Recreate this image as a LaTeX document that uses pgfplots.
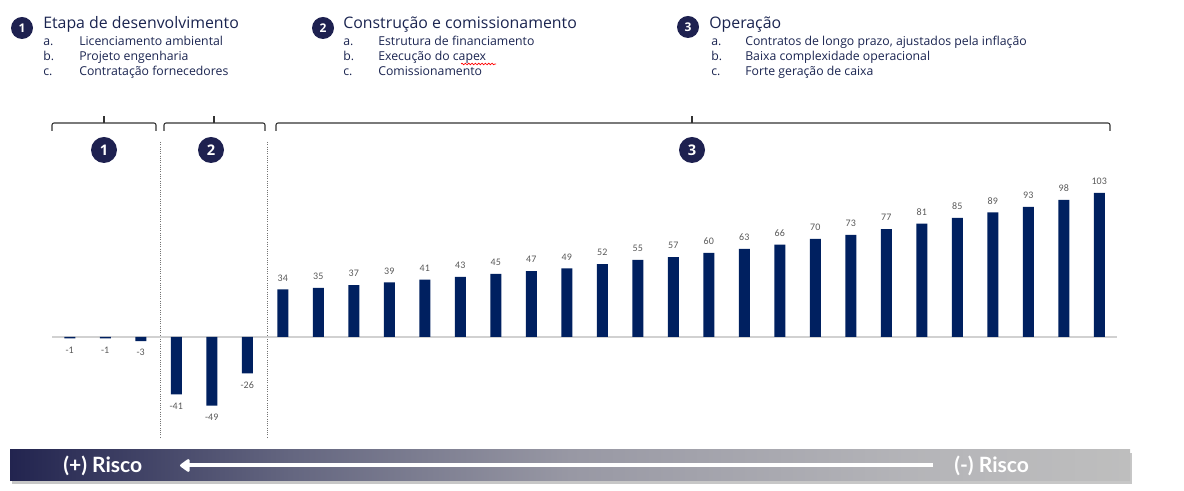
\documentclass[border=0pt]{standalone}
\usepackage{pgfplots}
\pgfplotsset{compat=1.18}
\usepackage{fontspec}
\setmainfont{Open Sans}
\newfontfamily\carlito{Carlito}
\newfontfamily\lato{Lato}
\usetikzlibrary{arrows.meta,decorations.pathmorphing}
\definecolor{navy}{HTML}{002060}
\definecolor{ink}{HTML}{1A2450}
\definecolor{circ}{HTML}{1E2150}
\definecolor{lbl}{HTML}{595959}
\definecolor{g1}{HTML}{22244F}
\definecolor{g2}{HTML}{646680}
\definecolor{g3}{HTML}{9898A4}
\definecolor{g4}{HTML}{B4B4B8}
\definecolor{g5}{HTML}{BEBEBE}
\pgfdeclarehorizontalshading{risk}{100bp}{color(0bp)=(g1); color(25bp)=(g1); color(37.5bp)=(g2); color(50bp)=(g3); color(65bp)=(g4); color(75bp)=(g5); color(100bp)=(g5)}
\pgfplotstableread{
x y
0 -1
1 -1
2 -3
3 -41
4 -49
5 -26
6 34
7 35
8 37
9 39
10 41
11 43
12 45
13 47
14 49
15 52
16 55
17 57
18 60
19 63
20 66
21 70
22 73
23 77
24 81
25 85
26 89
27 93
28 98
29 103
}\bars
\begin{document}
\begin{tikzpicture}[x=0.75pt,y=0.75pt]
\useasboundingbox (0,0) rectangle (1184,491);
% ---------- top descriptions ----------
\tikzset{ttl/.style={anchor=base west, text=ink, font=\fontsize{11.9}{13}\selectfont, inner sep=0pt},
         itm/.style={anchor=base west, text=ink, font=\fontsize{9.2}{10}\selectfont, inner sep=0pt},
         num/.style={text=white, font=\bfseries\fontsize{9}{10}\selectfont}}
% 1
\fill[circ] (22,463) circle (8.25pt); \node[num] at (22,463) {1};
\node[ttl] at (43,462) {Etapa de desenvolvimento};
\node[itm] at (43,445) {a.}; \node[itm] at (79,445) {Licenciamento ambiental};
\node[itm] at (43,430) {b.}; \node[itm] at (79,430) {Projeto engenharia};
\node[itm] at (43,415) {c.}; \node[itm] at (79,415) {Contratação fornecedores};
% 2
\fill[circ] (323,463) circle (8.25pt); \node[num] at (323,463) {2};
\node[ttl] at (343,462) {Construção e comissionamento};
\node[itm] at (343,445) {a.}; \node[itm] at (378,445) {Estrutura de financiamento};
\node[itm] at (343,430) {b.}; \node[itm] at (378,430) {Execução do capex};
\node[itm] at (343,415) {c.}; \node[itm] at (378,415) {Comissionamento};
\draw[red, line width=0.5pt, decorate, decoration={snake, amplitude=0.6pt, segment length=2.5pt}] (461,427) -- (496,427);
% 3
\fill[circ] (688,464) circle (8.25pt); \node[num] at (688,464) {3};
\node[ttl] at (709,462) {Operação};
\node[itm] at (711,445) {a.}; \node[itm] at (745,445) {Contratos de longo prazo, ajustados pela inflação};
\node[itm] at (711,430) {b.}; \node[itm] at (745,430) {Baixa complexidade operacional};
\node[itm] at (711,415) {c.}; \node[itm] at (745,415) {Forte geração de caixa};
% ---------- brackets ----------
\begin{scope}[black!80, line width=0.8pt, rounded corners=1.5pt]
\draw (52,360) -- (52,368) -- (156,368) -- (156,360);
\draw (164,360) -- (164,368) -- (265,368) -- (265,360);
\draw (276,360) -- (276,368) -- (1110,368) -- (1110,360);
\end{scope}
\draw[black!80, line width=0.8pt] (104,368) -- (104,375);
\draw[black!80, line width=0.8pt] (214,368) -- (214,375);
\draw[black!80, line width=0.8pt] (692,368) -- (692,375);
\fill[circ] (104,341) circle (9.75pt); \node[num, font=\bfseries\fontsize{11}{12}\selectfont] at (104,341) {1};
\fill[circ] (211,341) circle (9.75pt); \node[num, font=\bfseries\fontsize{11}{12}\selectfont] at (211,341) {2};
\fill[circ] (692,341) circle (9.75pt); \node[num, font=\bfseries\fontsize{11}{12}\selectfont] at (692,341) {3};
% dotted separators
\draw[black!55, densely dotted, line width=0.7pt] (160,349) -- (160,54);
\draw[black!55, densely dotted, line width=0.7pt] (267,349) -- (267,54);
% ---------- bars ----------
\begin{axis}[
  at={(39pt,52.5pt)}, anchor=south west,
  scale only axis, width=798.75pt, height=178.5pt,
  xmin=-0.5, xmax=29.5, ymin=-60, ymax=110,
  axis lines=none,
  ybar, bar width=8.25pt,
  nodes near coords,
  nodes near coords style={/pgf/number format/assume math mode=true},
  every node near coord/.append style={font=\carlito\fontsize{7.5}{8}\selectfont, text=lbl, inner sep=6pt},
  clip=false,
]
\draw[black!18, line width=1pt] (axis cs:-0.5,0) -- (axis cs:29.5,0);
\addplot[fill=navy, draw=none] table[x=x, y=y] {\bars};
\end{axis}
% ---------- risk bar ----------
\fill[black!22] (12,7) rectangle (1132,38);
\shade[shading=risk] (10,10) rectangle (1130,41);
\draw[white, line width=3pt, -{Triangle[length=8pt,width=11pt,round]}] (933,25.5) -- (180,25.5);
\node[anchor=west, inner sep=0pt, text=white, font=\lato\bfseries\fontsize{15.8}{16}\selectfont] at (63,25.5) {(+) Risco};
\node[anchor=west, inner sep=0pt, text=white, font=\lato\bfseries\fontsize{15.8}{16}\selectfont] at (954,25.5) {(-) Risco};
\end{tikzpicture}
\end{document}
